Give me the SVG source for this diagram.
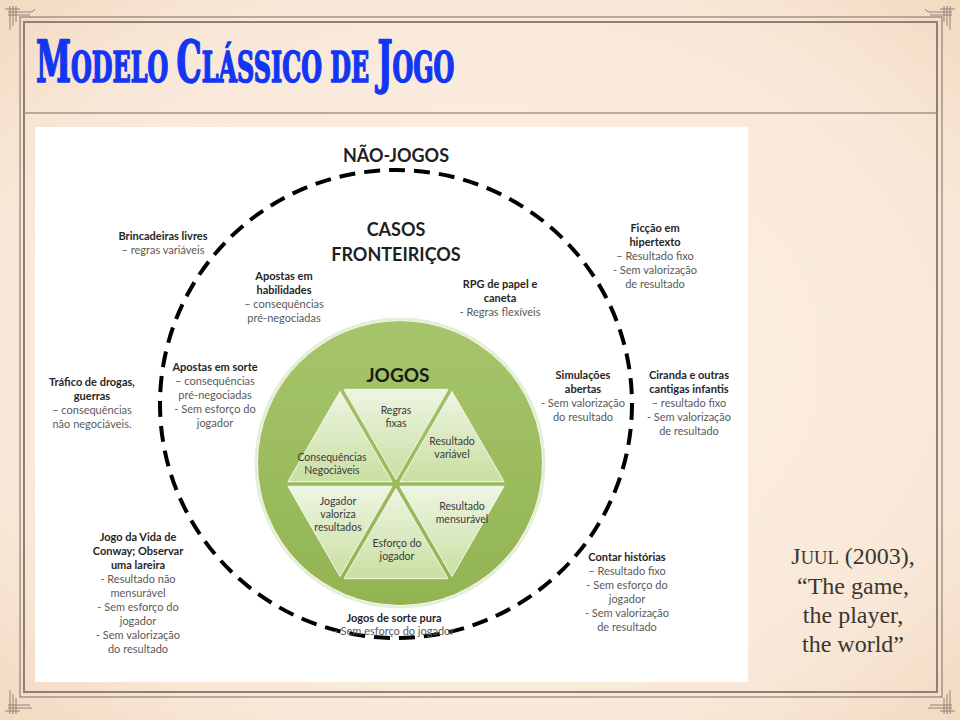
<svg xmlns="http://www.w3.org/2000/svg" width="960" height="720" viewBox="0 0 960 720">
<defs>
<radialGradient id="bg" cx="50%" cy="50%" r="75%">
<stop offset="0" stop-color="#fcf2e8"/>
<stop offset="0.7" stop-color="#f9e8d8"/>
<stop offset="1" stop-color="#f1d6bd"/>
</radialGradient>
<linearGradient id="disc" x1="0" y1="0" x2="0" y2="1">
<stop offset="0" stop-color="#a6c56b"/>
<stop offset="1" stop-color="#92b452"/>
</linearGradient>
<linearGradient id="tri" x1="0" y1="0" x2="0" y2="1">
<stop offset="0" stop-color="#eef5e2"/>
<stop offset="1" stop-color="#c9dfa2"/>
</linearGradient>
<style>
.t{font-family:Lato,"Liberation Sans",sans-serif;font-size:11px;text-anchor:middle}
.b{font-weight:bold;fill:#262626}
.d{fill:#5a5a5a}
.h{font-family:Lato,"Liberation Sans",sans-serif;font-size:18px;font-weight:bold;fill:#1f1f1f;text-anchor:middle}
.tl{font-family:Lato,"Liberation Sans",sans-serif;font-size:10.5px;fill:#3a3a3a;text-anchor:middle}
.tri{fill:url(#tri);stroke:#f4f8ec;stroke-width:1;stroke-linejoin:round}
.frame{fill:none;stroke:#8f8076}
.orn{fill:none;stroke:#8f8076;stroke-width:1}
.q{font-family:"Liberation Serif",serif;fill:#3b3631;text-anchor:middle;font-size:24px}
.ti{font-family:"DejaVu Serif Condensed","Liberation Serif",serif;font-weight:bold;fill:#1236f2;stroke:#1236f2;stroke-width:1.6;stroke-linejoin:round;font-size:43px}
</style>
</defs>

<rect width="960" height="720" fill="url(#bg)"/>

<g id="frame">
<rect x="20" y="17" width="922" height="680" class="frame" stroke-width="1.2"/>
<rect x="24" y="22" width="913" height="670" class="frame" stroke-width="2"/>
<line x1="24" y1="113" x2="937" y2="113" stroke="#a59486" stroke-width="1.5"/>
<path class="orn" d="M8 12 H32 M8 15 H30 M10 6 V30 M13 6 V26 M16 6 V22 M5 9 H20 M32 12 l3 -3"/>
<path class="orn" d="M952 12 H928 M952 15 H930 M950 6 V30 M947 6 V26 M944 6 V22 M955 9 H940 M928 12 l-3 -3"/>
<path class="orn" d="M8 708 H32 M8 705 H30 M10 714 V690 M13 714 V694 M16 714 V698 M5 711 H20"/>
<path class="orn" d="M952 708 H928 M952 705 H930 M950 714 V690 M947 714 V694 M944 714 V698 M955 711 H940"/>
</g>

<g id="title" transform="translate(36,82) scale(0.617,1)">
<text class="ti" x="0" y="0"><tspan font-size="57">M</tspan>ODELO <tspan font-size="57">C</tspan>LÁSSICO DE <tspan font-size="57">J</tspan>OGO</text>
</g>

<rect x="35" y="127" width="713" height="555" fill="#ffffff"/>

<g id="connectors">
<ellipse cx="396" cy="404" rx="236" ry="234" fill="none" stroke="#000" stroke-width="4" stroke-dasharray="16 9"/>
</g>

<g id="nao-jogos"><text class="h" x="396" y="162">NÃO-JOGOS</text></g>
<g id="casos-fronteiricos"><text class="h" x="396" y="236">CASOS</text><text class="h" x="396" y="261">FRONTEIRIÇOS</text></g>

<g id="jogos">
<circle cx="400" cy="463" r="144" fill="none" stroke="#e6eed9" stroke-width="3"/>
<circle cx="400" cy="463" r="142" fill="url(#disc)"/>
<text x="398" y="382" font-family="Lato,'Liberation Sans',sans-serif" font-size="19" font-weight="bold" fill="#1a1a1a" text-anchor="middle">JOGOS</text>
</g>

<g id="regras-fixas">
<polygon class="tri" points="343.9,389.3 448.1,389.3 396,479.5"/>
<text class="tl" x="396" y="414">Regras</text><text class="tl" x="396" y="427">fixas</text>
</g>
<g id="resultado-variavel">
<polygon class="tri" points="452,391.5 504.1,481.7 399.9,481.7"/>
<text class="tl" x="452" y="445">Resultado</text><text class="tl" x="452" y="458">variável</text>
</g>
<g id="consequencias-negociaveis">
<polygon class="tri" points="340,391.5 287.9,481.7 392.1,481.7"/>
<text class="tl" x="332" y="461">Consequências</text><text class="tl" x="332" y="474">Negociáveis</text>
</g>
<g id="jogador-valoriza">
<polygon class="tri" points="287.9,486.3 392.1,486.3 340,576.5"/>
<text class="tl" x="338" y="505">Jogador</text><text class="tl" x="338" y="518">valoriza</text><text class="tl" x="338" y="531">resultados</text>
</g>
<g id="resultado-mensuravel">
<polygon class="tri" points="399.9,486.3 504.1,486.3 452,576.5"/>
<text class="tl" x="462" y="510">Resultado</text><text class="tl" x="462" y="523">mensurável</text>
</g>
<g id="esforco-jogador">
<polygon class="tri" points="396,488.5 343.9,578.7 448.1,578.7"/>
<text class="tl" x="397" y="547">Esforço do</text><text class="tl" x="397" y="560">jogador</text>
</g>

<g id="brincadeiras">
<text class="t b" x="163" y="240">Brincadeiras livres</text>
<text class="t d" x="163" y="254">– regras variáveis</text>
</g>
<g id="apostas-habilidades">
<text class="t b" x="284" y="280">Apostas em</text>
<text class="t b" x="284" y="294">habilidades</text>
<text class="t d" x="284" y="308">– consequências</text>
<text class="t d" x="284" y="322">pré-negociadas</text>
</g>
<g id="rpg">
<text class="t b" x="500" y="288">RPG de papel e</text>
<text class="t b" x="500" y="302">caneta</text>
<text class="t d" x="500" y="316">- Regras flexíveis</text>
</g>
<g id="ficcao">
<text class="t b" x="655" y="232">Ficção em</text>
<text class="t b" x="655" y="246">hipertexto</text>
<text class="t d" x="655" y="260">– Resultado fixo</text>
<text class="t d" x="655" y="274">- Sem valorização</text>
<text class="t d" x="655" y="288">de resultado</text>
</g>
<g id="apostas-sorte">
<text class="t b" x="215" y="371">Apostas em sorte</text>
<text class="t d" x="215" y="385">– consequências</text>
<text class="t d" x="215" y="399">pré-negociadas</text>
<text class="t d" x="215" y="413">- Sem esforço do</text>
<text class="t d" x="215" y="427">jogador</text>
</g>
<g id="trafico">
<text class="t b" x="92" y="386">Tráfico de drogas,</text>
<text class="t b" x="92" y="400">guerras</text>
<text class="t d" x="92" y="414">– consequências</text>
<text class="t d" x="92" y="428">não negociáveis.</text>
</g>
<g id="conway">
<text class="t b" x="138" y="541">Jogo da Vida de</text>
<text class="t b" x="138" y="555">Conway; Observar</text>
<text class="t b" x="138" y="569">uma lareira</text>
<text class="t d" x="138" y="583">- Resultado não</text>
<text class="t d" x="138" y="597">mensurável</text>
<text class="t d" x="138" y="611">- Sem esforço do</text>
<text class="t d" x="138" y="625">jogador</text>
<text class="t d" x="138" y="639">- Sem valorização</text>
<text class="t d" x="138" y="653">do resultado</text>
</g>
<g id="simulacoes">
<text class="t b" x="583" y="379">Simulações</text>
<text class="t b" x="583" y="393">abertas</text>
<text class="t d" x="583" y="407">- Sem valorização</text>
<text class="t d" x="583" y="421">do resultado</text>
</g>
<g id="ciranda">
<text class="t b" x="689" y="379">Ciranda e outras</text>
<text class="t b" x="689" y="393">cantigas infantis</text>
<text class="t d" x="689" y="407">– resultado fixo</text>
<text class="t d" x="689" y="421">- Sem valorização</text>
<text class="t d" x="689" y="435">de resultado</text>
</g>
<g id="contar-historias">
<text class="t b" x="627" y="561">Contar histórias</text>
<text class="t d" x="627" y="575">– Resultado fixo</text>
<text class="t d" x="627" y="589">- Sem esforço do</text>
<text class="t d" x="627" y="603">jogador</text>
<text class="t d" x="627" y="617">- Sem valorização</text>
<text class="t d" x="627" y="631">de resultado</text>
</g>
<g id="jogos-sorte-pura">
<text class="t b" x="394" y="622">Jogos de sorte pura</text>
<text class="t d" x="394" y="635">- Sem esforço do jogador</text>
</g>

<g id="citation">
<text class="q" x="853" y="564">J<tspan font-size="18.5">UUL</tspan> (2003),</text>
<text class="q" x="853" y="594">“The game,</text>
<text class="q" x="853" y="623">the player,</text>
<text class="q" x="853" y="652">the world”</text>
</g>
</svg>
